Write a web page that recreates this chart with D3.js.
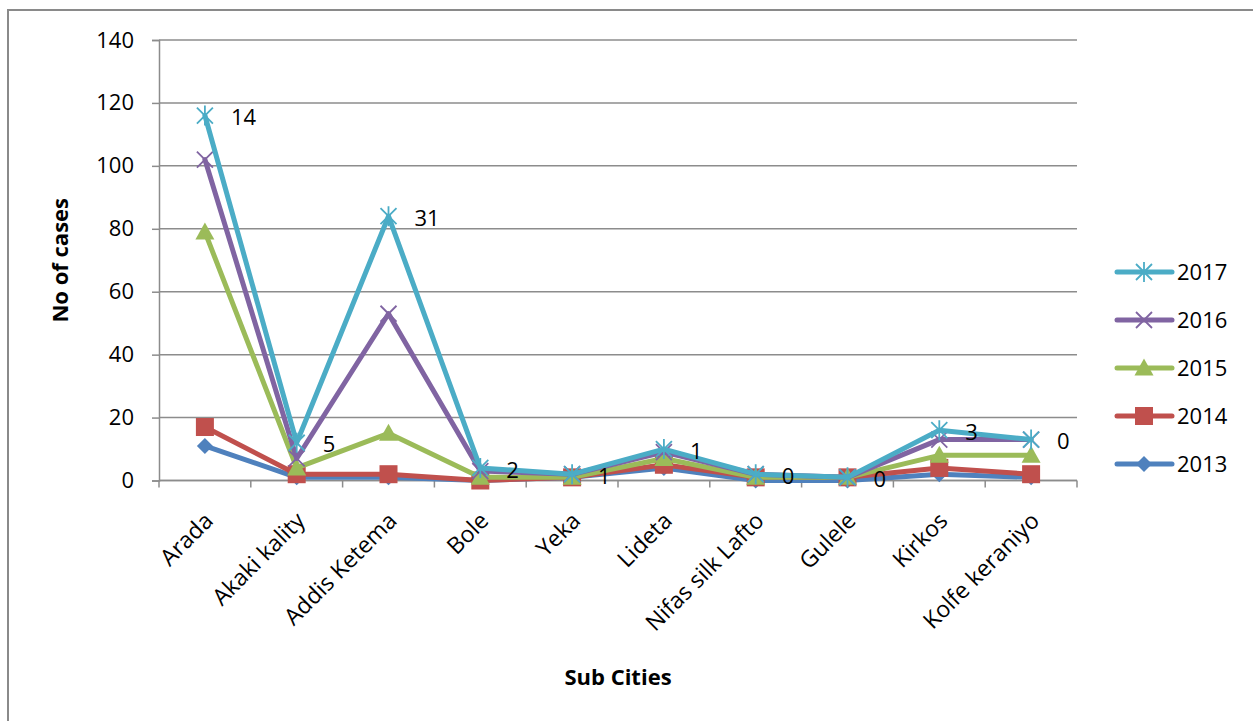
<!DOCTYPE html>
<html>
<head>
<meta charset="utf-8">
<script src="https://cdn.jsdelivr.net/npm/d3@7"></script>
<style>
  html, body { margin: 0; padding: 0; background: #fff; }
  svg { display: block; }
  text { font-family: "Open Sans", "Noto Sans", sans-serif; fill: #000; }
</style>
</head>
<body>
<svg id="chart" width="1253" height="721"></svg>
<script>
// Sub cities on the category axis
const subCities = ["Arada", "Akaki kality", "Addis Ketema", "Bole", "Yeka", "Lideta",
                   "Nifas silk Lafto", "Gulele", "Kirkos", "Kolfe keraniyo"];

// Number of cases per year
const cases2017 = [116, 12, 84, 4, 2, 10, 2, 1, 16, 13];
const cases2016 = [102, 7, 53, 3, 2, 9, 2, 1, 13, 13];
const cases2015 = [79, 4, 15, 1, 1, 7, 1, 1, 8, 8];
const cases2014 = [17, 2, 2, 0, 1, 5, 1, 1, 4, 2];
const cases2013 = [11, 1, 1, 0, 1, 4, 0, 0, 2, 1];

// Annotation printed beside each 2017 point
const labels2017 = [14, 5, 31, 2, 1, 1, 0, 0, 3, 0];

const yTicks = [0, 20, 40, 60, 80, 100, 120, 140];

const series = [
  { name: "2013", values: cases2013, color: "#4F81BD", marker: "diamond" },
  { name: "2014", values: cases2014, color: "#C0504D", marker: "square" },
  { name: "2015", values: cases2015, color: "#9BBB59", marker: "triangle" },
  { name: "2016", values: cases2016, color: "#8064A2", marker: "cross" },
  { name: "2017", values: cases2017, color: "#4BACC6", marker: "star" }
];

const svg = d3.select("#chart");
const plot = { left: 159, right: 1077, top: 40, bottom: 480.5 };

// Outer chart frame
svg.append("rect")
  .attr("x", 8).attr("y", 10)
  .attr("width", 1260).attr("height", 730)
  .attr("fill", "none").attr("stroke", "#8a8a8a").attr("stroke-width", 2);

const x = d3.scaleBand().domain(subCities).range([plot.left, plot.right]).paddingInner(0).paddingOuter(0);
const y = d3.scaleLinear().domain([0, 140]).range([plot.bottom, plot.top]);
const cx = d => x(d) + x.bandwidth() / 2;

// Horizontal gridlines
svg.append("g")
  .selectAll("line")
  .data(yTicks)
  .join("line")
  .attr("x1", plot.left).attr("x2", plot.right)
  .attr("y1", d => y(d)).attr("y2", d => y(d))
  .attr("stroke", "#8c8c8c").attr("stroke-width", 1.5);

// Y axis
const yAxis = svg.append("g")
  .attr("transform", `translate(${plot.left},0)`)
  .call(d3.axisLeft(y).tickValues(yTicks).tickSize(7).tickPadding(18).tickFormat(d3.format("d")));
yAxis.select(".domain").attr("stroke", "#8c8c8c").attr("stroke-width", 1.5);
yAxis.selectAll(".tick line").attr("stroke", "#8c8c8c").attr("stroke-width", 1.5);
yAxis.selectAll(".tick text").style("font-size", "22px").attr("fill", "#000");

// X axis with boundary tick marks between categories
const xAxis = svg.append("g").attr("transform", `translate(0,${plot.bottom})`);
xAxis.append("line")
  .attr("x1", plot.left).attr("x2", plot.right)
  .attr("stroke", "#8c8c8c").attr("stroke-width", 1.5);
const bounds = subCities.map(d => x(d)).concat([plot.right]);
xAxis.selectAll("line.bt")
  .data(bounds)
  .join("line")
  .attr("class", "bt")
  .attr("x1", d => d).attr("x2", d => d)
  .attr("y1", 0).attr("y2", 7)
  .attr("stroke", "#8c8c8c").attr("stroke-width", 1.5);
xAxis.selectAll("text")
  .data(subCities)
  .join("text")
  .attr("transform", d => `translate(${cx(d) + 4},${36}) rotate(-45)`)
  .attr("text-anchor", "end")
  .attr("dy", "0.35em")
  .style("font-size", "23px")
  .text(d => d);

// Axis titles
svg.append("text")
  .attr("transform", `translate(68,${(plot.top + plot.bottom) / 2}) rotate(-90)`)
  .attr("text-anchor", "middle")
  .style("font-size", "22px").style("font-weight", "bold")
  .text("No of cases");
svg.append("text")
  .attr("x", (plot.left + plot.right) / 2).attr("y", 685)
  .attr("text-anchor", "middle")
  .style("font-size", "22px").style("font-weight", "bold")
  .text("Sub Cities");

// Marker shapes
function drawMarker(g, type, color) {
  if (type === "diamond") {
    g.append("path").attr("d", "M0,-8L8,0L0,8L-8,0Z").attr("fill", color);
  } else if (type === "square") {
    g.append("rect").attr("x", -9).attr("y", -9).attr("width", 18).attr("height", 18).attr("fill", color);
  } else if (type === "triangle") {
    g.append("path").attr("d", "M0,-9.5L9.5,7.5L-9.5,7.5Z").attr("fill", color);
  } else if (type === "cross") {
    g.append("path").attr("d", "M-8,-8L8,8M-8,8L8,-8").attr("stroke", color).attr("stroke-width", 1.8).attr("fill", "none");
  } else if (type === "star") {
    g.append("path").attr("d", "M-8,-8L8,8M-8,8L8,-8M0,-10L0,10").attr("stroke", color).attr("stroke-width", 1.8).attr("fill", "none");
  }
}

const line = d3.line().x(d => cx(d.cat)).y(d => y(d.v));

series.forEach(s => {
  const pts = s.values.map((v, i) => ({ cat: subCities[i], v }));
  const g = svg.append("g");
  g.append("path")
    .datum(pts)
    .attr("d", line)
    .attr("fill", "none")
    .attr("stroke", s.color)
    .attr("stroke-width", 5)
    .attr("stroke-linejoin", "round")
    .attr("stroke-linecap", "round");
  pts.forEach(p => {
    const m = g.append("g").attr("transform", `translate(${cx(p.cat)},${y(p.v)})`);
    drawMarker(m, s.marker, s.color);
  });
});

// Annotations beside the 2017 points
svg.append("g")
  .selectAll("text")
  .data(labels2017)
  .join("text")
  .attr("x", (d, i) => cx(subCities[i]) + 26)
  .attr("y", (d, i) => y(cases2017[i]) + 2)
  .attr("dy", "0.35em")
  .style("font-size", "22px")
  .text(d => d);

// Legend
const legend = svg.append("g");
series.slice().reverse().forEach((s, i) => {
  const ly = 272 + i * 48;
  const lg = legend.append("g");
  lg.append("line")
    .attr("x1", 1117).attr("x2", 1172)
    .attr("y1", ly).attr("y2", ly)
    .attr("stroke", s.color).attr("stroke-width", 5).attr("stroke-linecap", "round");
  const m = lg.append("g").attr("transform", `translate(1144,${ly})`);
  drawMarker(m, s.marker, s.color);
  lg.append("text")
    .attr("x", 1177).attr("y", ly)
    .attr("dy", "0.35em")
    .style("font-size", "22px")
    .text(s.name);
});
</script>
</body>
</html>
